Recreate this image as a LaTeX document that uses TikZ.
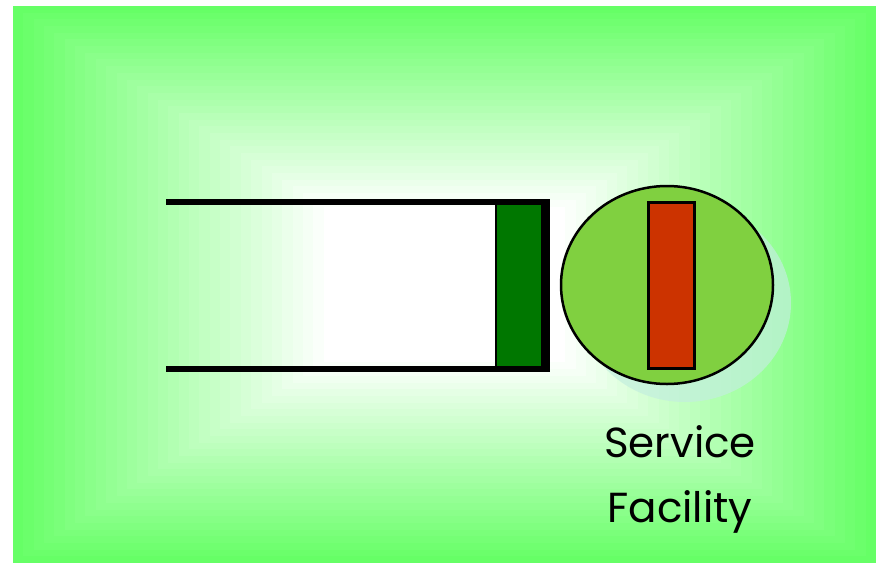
\documentclass[tikz,border=0pt]{standalone}
\usepackage{fontspec}
\setmainfont{Poppins}
\usetikzlibrary{positioning,shapes.geometric}

\definecolor{bgGreen}{RGB}{102,255,102}
\definecolor{queueGreen}{RGB}{0,119,0}
\definecolor{serverGreen}{RGB}{128,208,64}
\definecolor{serverRed}{RGB}{204,51,0}
\definecolor{shadowCyan}{RGB}{195,238,222}

\begin{document}
\begin{tikzpicture}[x=1pt,y=-1pt,
wall/.style={line width=6pt},
endwall/.style={line width=7pt},
slot/.style={draw,line width=1.5pt,fill=queueGreen,minimum width=46pt,minimum height=171pt,inner sep=0pt},
server/.style={draw,ellipse,line width=2.5pt,fill=serverGreen,minimum width=212pt,minimum height=198pt,inner sep=0pt},
busy/.style={draw,line width=3pt,fill=serverRed,minimum width=46pt,minimum height=166pt,inner sep=0pt},
caption/.style={align=center,font=\fontsize{42}{65}\selectfont,inner sep=0pt}
]
\useasboundingbox (0,0) rectangle (876,563);
\fill[white] (0,0) rectangle (876,563);
% background, green at the edges fading to white
\foreach \i in {0,...,30}{
  \pgfmathsetmacro{\s}{1-0.72*\i/30}
  \pgfmathsetmacro{\g}{100*(1-\i/30)}
  \fill[bgGreen!\g!white] ({444.5-431.5*\s},{284.5-278.5*\s}) rectangle ({444.5+431.5*\s},{284.5+278.5*\s});
}

% queue
\coordinate (qTopL) at (166,202);
\coordinate (qBotL) at (166,369);
\coordinate (qTopR) at (549,202);
\coordinate (qBotR) at (549,369);
\node[slot] (slot) at (519,285.5) {};
\draw[wall] (qTopL) -- (qTopR);
\draw[wall] (qBotL) -- (qBotR);
\draw[endwall] ([xshift=3.5pt]slot.north east) -- ([xshift=3.5pt]slot.south east);

% service facility
\node[server,draw=none,fill=shadowCyan,fill opacity=0.7] (shadow) at (685,303) {};
\node[server] (server) at (667,285) {};
\node[busy] (busy) at (671,285) {};
\node[caption] (label) at (680,479) {Service\\Facility};
\end{tikzpicture}
\end{document}
